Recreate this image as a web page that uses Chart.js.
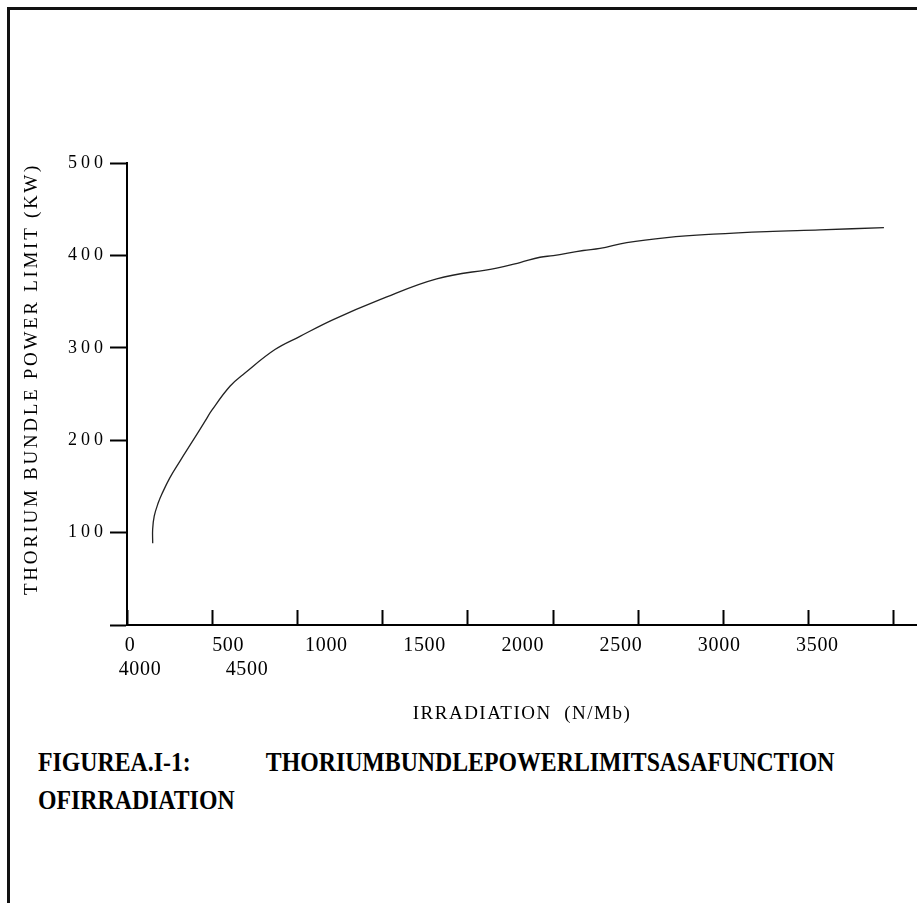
<!DOCTYPE html>
<html>
<head>
<meta charset="utf-8">
<script src="https://cdn.jsdelivr.net/npm/chart.js@4.4.1/dist/chart.umd.min.js"></script>
<style>
  html, body { margin: 0; padding: 0; background: #fff; }
  #page { position: relative; width: 917px; height: 903px; overflow: hidden; }
  #frame { position: absolute; left: 7px; top: 7px; width: 930px; height: 930px;
           border-left: 3px solid #111; border-top: 3px solid #111; }
  #wrap { position: absolute; left: 0; top: 0; width: 917px; height: 740px; }
  #caption { position: absolute; left: 38px; top: 743px; color: #000;
             font: bold 28px "Liberation Serif"; line-height: 38px; white-space: nowrap;
             transform: scaleX(0.85); transform-origin: left top; }
  #caption .lead { display: inline-block; width: 268px; }
</style>
</head>
<body>
<div id="page">
  <div id="frame"></div>
  <div id="wrap"><canvas id="chart"></canvas></div>
  <div id="caption"><span class="lead">FIGUREA.I-1:</span>THORIUMBUNDLEPOWERLIMITSASAFUNCTION<br>OFIRRADIATION</div>
</div>
<script>
// curve (irradiation, power limit in kW)
const irradiation = [150.8, 150.5, 160, 184, 204, 252, 311, 380, 458, 497, 604, 692, 868, 1015, 1210,
  1484, 1817, 2169, 2306, 2423, 2501, 2677, 2775, 2932, 3167, 3440, 3753, 4066, 4441];
const powerLimit = [88.6, 103.7, 118, 132.5, 141.5, 159.5, 177.4, 197.6, 220.6, 232.2, 258.4, 272.7, 298.1, 312.4, 330.5,
  352.1, 374.7, 386.3, 392.3, 398, 399.8, 405.3, 407.5, 413.9, 419.3, 423, 425.8, 427.6, 430.1];

const xTickMarks = [0, 500, 1000, 1500, 2000, 2500, 3000, 3500, 4000, 4500];
const xLabelsRow1 = [0, 500, 1000, 1500, 2000, 2500, 3000, 3500];
const xLabelsRow2 = [4000, 4500];
const yTicks = [0, 100, 200, 300, 400, 500];

const serif = 'Liberation Serif';

// extra letter spacing for the scanned-looking axis text
const spacing = {
  y: { labels: 4, title: 2.7 },
  xl: { labels: 0.7 },
  xl2: { labels: 0.7, title: 1.5 }
};

function spaced(fn, px) {
  return function (...args) {
    const ctx = this.ctx;
    ctx.save();
    ctx.letterSpacing = px + 'px';
    fn.apply(this, args);
    ctx.restore();
  };
}

const letterSpacingPlugin = {
  id: 'letterSpacing',
  beforeDraw(chart) {
    Object.values(chart.scales).forEach(scale => {
      const sp = spacing[scale.id];
      if (!sp || scale._spaced) return;
      if (sp.labels) scale.drawLabels = spaced(scale.drawLabels, sp.labels);
      if (sp.title) scale.drawTitle = spaced(scale.drawTitle, sp.title);
      scale._spaced = true;
    });
  }
};

const ctx = document.getElementById('chart').getContext('2d');
new Chart(ctx, {
  type: 'line',
  data: {
    datasets: [{
      data: irradiation.map((x, i) => ({ x, y: powerLimit[i] })),
      borderColor: '#222',
      borderWidth: 1.3,
      pointRadius: 0,
      tension: 0.4,
      fill: false
    }]
  },
  options: {
    responsive: true,
    maintainAspectRatio: false,
    animation: false,
    devicePixelRatio: 1,
    layout: { padding: { top: 163, right: 0, bottom: 14.6, left: 0 } },
    plugins: { legend: { display: false }, tooltip: { enabled: false } },
    scales: {
      x: {
        type: 'linear', position: 'bottom', weight: 0,
        min: 0, max: 4635,
        afterBuildTicks: s => { s.ticks = xTickMarks.map(v => ({ value: v })); },
        afterFit: s => { s.height = 0; },
        // ticks point up into the plot, as in the original
        grid: { drawOnChartArea: false, drawTicks: true, tickLength: -15, tickWidth: 2, tickColor: '#000' },
        border: { display: true, color: '#000', width: 2 },
        ticks: { display: false }
      },
      xl: {
        type: 'linear', position: 'bottom', weight: 1,
        min: -15.3, max: 4007,
        afterBuildTicks: s => { s.ticks = xLabelsRow1.map(v => ({ value: v })); },
        afterFit: s => { s.height = 32; },
        grid: { display: false, drawTicks: false },
        border: { display: false },
        ticks: { color: '#000', font: { family: serif, size: 20 }, padding: 9,
                 maxRotation: 0, autoSkip: false, callback: v => String(v) }
      },
      xl2: {
        type: 'linear', position: 'bottom', weight: 2,
        min: 3939, max: 7631,
        afterBuildTicks: s => { s.ticks = xLabelsRow2.map(v => ({ value: v })); },
        grid: { display: false, drawTicks: false },
        border: { display: false },
        ticks: { color: '#000', font: { family: serif, size: 20 }, padding: 1,
                 maxRotation: 0, autoSkip: false, callback: v => String(v) },
        title: { display: true, text: 'IRRADIATION  (N/Mb)', color: '#000',
                 font: { family: serif, size: 19 }, padding: { top: 19.6, bottom: 0 } }
      },
      y: {
        type: 'linear', min: 0, max: 500,
        afterBuildTicks: s => { s.ticks = yTicks.map(v => ({ value: v })); },
        afterFit: s => { s.width = 127; },
        grid: { drawOnChartArea: false, tickLength: 17, tickWidth: 2, tickColor: '#000' },
        border: { color: '#000', width: 2 },
        ticks: { color: '#000', font: { family: serif, size: 18 }, padding: 3,
                 callback: v => v === 0 ? '' : String(v) },
        title: { display: true, text: 'THORIUM BUNDLE POWER LIMIT (KW)', color: '#000', align: 'end',
                 font: { family: serif, size: 19 }, padding: { top: 21, bottom: 0 } }
      }
    }
  },
  plugins: [letterSpacingPlugin]
});
</script>
</body>
</html>
